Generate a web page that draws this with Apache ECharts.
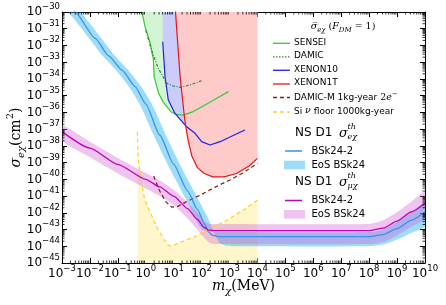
<!DOCTYPE html>
<html><head><meta charset="utf-8">
<script src="https://cdn.jsdelivr.net/npm/echarts@6/dist/echarts.min.js"></script>
<style>html,body{margin:0;padding:0;background:#fff}#c{width:446px;height:305px}</style>
</head><body><div id="c"></div>
<script>
// ---------- data (mass in MeV, cross section in cm^2) ----------
const blueLineM = [2.51e-3, 3.02e-3, 1.55e-2, 4.68e-2, 0.141, 0.417, 1.0, 3.16, 10, 31.6, 70.8, 126, 178, 251, 398, 1e3, 1e8, 3.16e8, 1e9, 3.16e9, 1e10];
const blueLineS = [1.59e-30, 9.12e-31, 2.69e-32, 2.40e-33, 3.39e-34, 3.47e-35, 3.16e-36, 4.47e-38, 7.94e-40, 2.00e-41, 1.59e-42, 2.24e-43, 7.08e-44, 4.47e-44, 3.80e-44, 3.72e-44, 3.72e-44, 5.01e-44, 1.12e-43, 3.55e-43, 1.15e-42];
const blueUpperM = [1.51e-3, 1.82e-3, 9.33e-3, 2.82e-2, 8.51e-2, 0.251, 0.603, 1.91, 6.03, 19.1, 42.7, 75.9, 107, 158, 316, 1e8, 3.16e8, 1e9, 3.16e9, 1e10];
const blueUpperS = [1.59e-30, 9.12e-31, 2.69e-32, 2.40e-33, 3.39e-34, 3.47e-35, 3.16e-36, 4.47e-38, 7.94e-40, 2.00e-41, 1.59e-42, 2.24e-43, 1.0e-43, 7.59e-44, 7.08e-44, 7.08e-44, 1.0e-43, 2.82e-43, 1.05e-42, 3.98e-42];
const blueLowerM = [4.17e-3, 5.01e-3, 2.57e-2, 7.76e-2, 0.234, 0.692, 1.66, 5.25, 16.6, 52.5, 118, 209, 295, 447, 794, 2.0e3, 1e8, 3.16e8, 1e9, 3.16e9, 1e10];
const blueLowerS = [1.59e-30, 9.12e-31, 2.69e-32, 2.40e-33, 3.39e-34, 3.47e-35, 3.16e-36, 4.47e-38, 7.94e-40, 2.00e-41, 1.59e-42, 2.24e-43, 5.01e-44, 1.59e-44, 1.07e-44, 1.0e-44, 1.0e-44, 1.26e-44, 2.51e-44, 6.31e-44, 1.59e-43];

const magLineM = [1e-3, 1e-2, 0.1, 1, 3.16, 10, 31.6, 70.8, 126, 178, 316, 1e8, 3.16e8, 1e9, 3.16e9, 1e10];
const magLineS = [7.08e-38, 7.41e-39, 7.94e-40, 1.0e-40, 3.55e-41, 1.0e-41, 1.78e-42, 3.98e-43, 1.32e-43, 9.12e-44, 8.51e-44, 8.51e-44, 1.20e-43, 3.16e-43, 1.12e-42, 3.72e-42];
const magUpperM = [1e-3, 1e-2, 0.1, 1, 3.16, 10, 31.6, 70.8, 126, 178, 316, 1e8, 3.16e8, 1e9, 3.16e9, 1e10];
const magUpperS = [1.70e-37, 1.78e-38, 1.91e-39, 2.40e-40, 8.51e-41, 2.40e-41, 4.27e-42, 1.0e-42, 3.16e-43, 2.24e-43, 2.14e-43, 2.14e-43, 3.55e-43, 1.12e-42, 4.47e-42, 1.82e-41];
const magLowerM = [1e-3, 1e-2, 0.1, 1, 3.16, 10, 31.6, 70.8, 126, 200, 398, 1e8, 3.16e8, 1e9, 3.16e9, 1e10];
const magLowerS = [2.00e-38, 2.09e-39, 2.24e-40, 2.82e-41, 1.0e-41, 2.82e-42, 4.47e-43, 1.0e-43, 3.16e-44, 1.59e-44, 1.35e-44, 1.35e-44, 1.78e-44, 4.47e-44, 1.41e-43, 4.68e-43];

const senseiM = [0.708, 0.933, 1.45, 1.66, 1.86, 2.0, 2.88, 4.27, 7.94, 12.6, 22.4, 50.1, 115, 316, 912];
const senseiS = [1.26e-30, 1.41e-31, 1.35e-32, 3.98e-33, 1.59e-33, 1.35e-34, 1.38e-35, 3.98e-36, 1.10e-36, 7.59e-37, 6.92e-37, 1.12e-36, 2.40e-36, 6.31e-36, 1.74e-35];
const damicM = [1.0, 1.62, 2.82, 5.62, 9.77, 17.0, 38.5, 100];
const damicS = [7.94e-32, 5.01e-33, 4.27e-34, 5.50e-35, 3.80e-35, 3.16e-35, 4.37e-35, 7.76e-35];
const xenon10M = [4.05, 4.89, 6.41, 11.1, 29.2, 58.1, 100, 200, 457, 1350, 3550];
const xenon10S = [1.66e-32, 1.35e-34, 5.50e-36, 8.71e-37, 1.38e-37, 5.62e-38, 1.78e-38, 1.12e-38, 1.78e-38, 4.17e-38, 8.91e-38];
const xenon1tM = [11.5, 14.1, 17.0, 25.1, 33.1, 44.7, 70.8, 126, 251, 631, 1780, 5010, 1e4];
const xenon1tS = [1.26e-30, 1e-32, 1.26e-34, 3.16e-37, 2.0e-38, 2.51e-39, 5.01e-40, 2.24e-40, 1.41e-40, 1.41e-40, 2.24e-40, 6.31e-40, 1.78e-39];
const damicMM = [1.91, 3.16, 5.25, 8.71, 14.5, 31.6, 100, 316, 1000, 3160, 1e4];
const damicMS = [1.59e-40, 2.0e-41, 4.47e-42, 2.14e-42, 2.51e-42, 5.01e-42, 1.26e-41, 3.55e-41, 8.91e-41, 2.51e-40, 9.12e-40];
const nuFloorM = [0.501, 0.513, 0.550, 0.631, 0.724, 0.891, 1.15, 1.41, 2.0, 2.82, 4.17, 6.31, 8.32, 14.1, 56.2, 200, 794, 3160, 1e4];
const nuFloorS = [7.08e-38, 1.0e-38, 1.41e-39, 2.51e-40, 5.01e-41, 7.94e-42, 2.51e-42, 1.15e-42, 3.16e-43, 9.33e-44, 3.16e-44, 1.18e-44, 1.0e-44, 1.48e-44, 3.72e-44, 1.12e-43, 3.55e-43, 1.48e-42, 5.75e-42];

// axis ranges (decades) and tick exponents
const xDecadeMin = -3, xDecadeMax = 10, yDecadeMin = -45, yDecadeMax = -30;

// ---------- helpers: log10 axes (values plotted as their log10) ----------
const L = v => Math.log10(v);
const zip = (a, b) => a.map((v, i) => [L(v), L(b[i])]);
const SANS = 'DejaVu Sans', SERIF = 'DejaVu Serif';

function areaSeries(name, pts, color, z, smooth) {
  return {
    name, type: 'custom', coordinateSystem: 'cartesian2d', clip: true, silent: true, z,
    data: pts,
    renderItem: (params, api) => params.dataIndex === 0 ? {
      type: 'polygon', shape: { points: pts.map(p => api.coord(p)), smooth: smooth || 0 }, style: { fill: color }
    } : null
  };
}
function lineSeries(name, pts, color, width, type, z, smooth) {
  return {
    name, type: 'line', data: pts, showSymbol: false, symbol: 'none', z, silent: true, clip: true,
    smooth: smooth || false, smoothMonotone: 'x',
    lineStyle: { color, width, type: type || 'solid' }
  };
}
const bandPts = (um, us, lm, ls) => zip(um, us).concat(zip(lm, ls).reverse());
const closeTop = pts => pts.concat([[pts[pts.length - 1][0], yDecadeMax], [pts[0][0], yDecadeMax]]);
const closeBottom = pts => pts.concat([[pts[pts.length - 1][0], yDecadeMin], [pts[0][0], yDecadeMin]]);

const minorX = [], minorY = [];
for (let e = xDecadeMin; e < xDecadeMax; e++) for (let k = 2; k <= 9; k++) minorX.push([e + L(k), -40]);
for (let e = yDecadeMin; e < yDecadeMax; e++) for (let k = 2; k <= 9; k++) minorY.push([0, e + L(k)]);

const expLabel = v => {
  const e = Math.round(v);
  return '{b|10}{s|' + (e < 0 ? '\u2212' + (-e) : e) + '}';
};
const tickRich = {
  b: { fontSize: 12, fontFamily: SANS, color: '#000', verticalAlign: 'bottom' },
  s: { fontSize: 8.5, fontFamily: SANS, color: '#000', verticalAlign: 'bottom', padding: [0, 0, 7, 0] }
};
const mathRich = {
  i: { fontFamily: SERIF, fontStyle: 'italic', fontSize: 14, color: '#000', verticalAlign: 'bottom', padding: [0, 0, 3, 0] },
  r: { fontFamily: SERIF, fontSize: 14, color: '#000', verticalAlign: 'bottom', padding: [0, 0, 3, 0] },
  sub: { fontFamily: SERIF, fontStyle: 'italic', fontSize: 10, color: '#000', verticalAlign: 'bottom' },
  sup: { fontFamily: SERIF, fontSize: 10, color: '#000', verticalAlign: 'bottom', padding: [0, 0, 11, 0] }
};

const axisBase = {
  type: 'value', interval: 1,
  axisLine: { show: true, onZero: false, lineStyle: { color: '#000', width: 1 } },
  axisTick: { show: true, inside: true, length: 5, lineStyle: { color: '#000', width: 1 } },
  splitLine: { show: false }
};

// ---------- colours ----------
const C = {
  sensei: '#33cc33', damic: '#2e8b2e', xenon10: '#1f1fe6', xenon1t: '#ee1111',
  damicM: '#8b1a1a', nu: '#ffd21f',
  greenFill: '#d4f5d4', blueFill: '#ccccfb', redFill: '#fecaca', yellowFill: '#fff6cc',
  nsBlue: '#3a8ff0', nsBlueBand: 'rgba(40,180,240,0.45)',
  nsMag: '#c000c0', nsMagBand: 'rgba(210,90,210,0.35)'
};

// ---------- legend (graphic) ----------
const g = [];
const L1x1 = 273, L1x2 = 290, T1x = 294;
const legend1 = [
  ['SENSEI', C.sensei, 'solid', 43.3],
  ['DAMIC', C.damic, [1.5, 1.5], 56.8],
  ['XENON10', C.xenon10, 'solid', 70.3],
  ['XENON1T', C.xenon1t, 'solid', 84],
  ['DAMIC-M', C.damicM, [4, 3], 97.5],
  ['SI', C.nu, [4, 3], 112]
];
const legRich = {
  t: { fontFamily: SANS, fontSize: 9, color: '#000', verticalAlign: 'bottom', padding: [0, 0, 2, 0] },
  ti: { fontFamily: SERIF, fontStyle: 'italic', fontSize: 9.5, color: '#000', verticalAlign: 'bottom', padding: [0, 0, 2, 0] },
  tr: { fontFamily: SERIF, fontSize: 9.5, color: '#000', verticalAlign: 'bottom', padding: [0, 0, 2, 0] },
  sup: { fontFamily: SERIF, fontSize: 7, color: '#000', verticalAlign: 'bottom', padding: [0, 0, 7, 0] },
  sub: { fontFamily: SERIF, fontStyle: 'italic', fontSize: 7, color: '#000', verticalAlign: 'bottom' }
};
const legText = {
  SENSEI: '{t|SENSEI}', DAMIC: '{t|DAMIC}', XENON10: '{t|XENON10}', XENON1T: '{t|XENON1T}',
  'DAMIC-M': '{t|DAMIC-M 1kg-year }{tr|2}{ti|e}{sup|\u2212}',
  SI: '{t|Si }{ti|\u03bd}{t| floor 1000kg-year}'
};
legend1.forEach(([key, col, dash, y]) => {
  g.push({ type: 'line', z: 100, shape: { x1: L1x1, y1: y, x2: L1x2, y2: y }, style: { stroke: col, lineWidth: 1.3, lineDash: dash === 'solid' ? null : dash } });
  g.push({ type: 'text', z: 100, style: { x: T1x, y: y, text: legText[key], rich: legRich, align: 'left', verticalAlign: 'middle' } });
});
g.push({ type: 'text', z: 100, style: { x: 343, y: 28, align: 'center', verticalAlign: 'middle', rich: legRich,
  text: '{ti|\u03c3\u0305}{sub|e\u03c7}{tr| (}{ti|F}{sub|DM}{tr| = 1)}' } });

function nsTitle(y, subTxt) {
  g.push({ type: 'text', z: 100, style: { x: 295, y: y, text: 'NS D1', fontFamily: SANS, fontSize: 12, fill: '#000', align: 'left', verticalAlign: 'middle' } });
  g.push({ type: 'text', z: 100, style: { x: 339, y: y, text: '\u03c3', fontFamily: SERIF, fontStyle: 'italic', fontSize: 13, fill: '#000', align: 'left', verticalAlign: 'middle' } });
  g.push({ type: 'text', z: 100, style: { x: 347.5, y: y - 6, text: 'th', fontFamily: SERIF, fontStyle: 'italic', fontSize: 8, fill: '#000', align: 'left', verticalAlign: 'middle' } });
  g.push({ type: 'text', z: 100, style: { x: 347.5, y: y + 4, text: subTxt, fontFamily: SERIF, fontStyle: 'italic', fontSize: 8, fill: '#000', align: 'left', verticalAlign: 'middle' } });
}
function nsEntries(yLine, yBand, lineCol, bandCol) {
  g.push({ type: 'line', z: 100, shape: { x1: 285, y1: yLine, x2: 302, y2: yLine }, style: { stroke: lineCol, lineWidth: 1.5 } });
  g.push({ type: 'text', z: 100, style: { x: 311.5, y: yLine, text: 'BSk24-2', fontFamily: SANS, fontSize: 10, fill: '#000', align: 'left', verticalAlign: 'middle' } });
  g.push({ type: 'rect', z: 100, shape: { x: 284, y: yBand - 4.3, width: 21, height: 8.6 }, style: { fill: bandCol } });
  g.push({ type: 'text', z: 100, style: { x: 311.5, y: yBand, text: 'EoS BSk24', fontFamily: SANS, fontSize: 10, fill: '#000', align: 'left', verticalAlign: 'middle' } });
}
nsTitle(133.3, 'e\u03c7');
nsEntries(151, 165, C.nsBlue, C.nsBlueBand);
nsTitle(182.3, '\u03bc\u03c7');
nsEntries(200.5, 214.3, C.nsMag, C.nsMagBand);

// ---------- chart ----------
const chart = echarts.init(document.getElementById('c'));
chart.setOption({
  animation: false,
  backgroundColor: '#fff',
  grid: { left: 62, right: 21, top: 12, bottom: 42, containLabel: false, outerBoundsMode: 'none' },
  xAxis: [
    Object.assign({}, axisBase, {
      position: 'bottom', min: xDecadeMin, max: xDecadeMax,
      axisLabel: { show: true, interval: 0, margin: 1, formatter: expLabel, rich: tickRich, showMinLabel: true, showMaxLabel: true },
      name: '{i|m}{sub|\u03c7}{r|(MeV)}', nameLocation: 'middle', nameGap: 16, nameMoveOverlap: false,
      nameTextStyle: { rich: mathRich }
    }),
    Object.assign({}, axisBase, { position: 'top', min: xDecadeMin, max: xDecadeMax, axisLabel: { show: false } })
  ],
  yAxis: [
    Object.assign({}, axisBase, {
      position: 'left', min: yDecadeMin, max: yDecadeMax,
      axisLabel: { show: true, interval: 0, margin: 2, formatter: expLabel, rich: tickRich, padding: [0, 0, 3.5, 0], showMinLabel: true, showMaxLabel: true },
      name: '{i|\u03c3}{sub|e\u03c7}{r|(cm}{sup|2}{r|)}', nameLocation: 'middle', nameGap: 36, nameRotate: 90, nameMoveOverlap: false,
      nameTextStyle: { rich: mathRich }
    }),
    Object.assign({}, axisBase, { position: 'right', min: yDecadeMin, max: yDecadeMax, axisLabel: { show: false } })
  ],
  graphic: g,
  series: [
    areaSeries('Si nu floor fill', closeBottom(zip(nuFloorM, nuFloorS)), C.yellowFill, 1),
    areaSeries('SENSEI fill', closeTop(zip(senseiM, senseiS)), C.greenFill, 1),
    areaSeries('XENON10 fill', closeTop(zip(xenon10M, xenon10S)), C.blueFill, 1),
    areaSeries('XENON1T fill', closeTop(zip(xenon1tM, xenon1tS)), C.redFill, 1),
    areaSeries('EoS BSk24 (e)', bandPts(blueUpperM, blueUpperS, blueLowerM, blueLowerS), C.nsBlueBand, 2, 0.2),
    areaSeries('EoS BSk24 (mu)', bandPts(magUpperM, magUpperS, magLowerM, magLowerS), C.nsMagBand, 2, 0.2),
    lineSeries('SENSEI', zip(senseiM, senseiS), C.sensei, 1.2, 'solid', 3),
    lineSeries('DAMIC', zip(damicM, damicS), C.damic, 1.2, [3, 1.5, 1, 1.5], 3),
    lineSeries('XENON10', zip(xenon10M, xenon10S), C.xenon10, 1.2, 'solid', 3),
    lineSeries('XENON1T', zip(xenon1tM, xenon1tS), C.xenon1t, 1.2, 'solid', 3),
    lineSeries('DAMIC-M 1kg-year', zip(damicMM, damicMS), C.damicM, 1.2, [4, 3], 3),
    lineSeries('Si nu floor 1000kg-year', zip(nuFloorM, nuFloorS), C.nu, 1.2, [4, 3], 3),
    lineSeries('BSk24-2 (e)', zip(blueLineM, blueLineS), C.nsBlue, 1.3, 'solid', 4, 0.2),
    lineSeries('BSk24-2 (mu)', zip(magLineM, magLineS), C.nsMag, 1.3, 'solid', 4, 0.2),
    {
      type: 'custom', silent: true, clip: false, z: 5, data: minorX,
      renderItem: (params, api) => {
        const cs = params.coordSys; const x = api.coord([api.value(0), -40])[0];
        return { type: 'group', children: [
          { type: 'line', shape: { x1: x, y1: cs.y + cs.height, x2: x, y2: cs.y + cs.height - 2.5 }, style: { stroke: '#000', lineWidth: 0.8 } },
          { type: 'line', shape: { x1: x, y1: cs.y, x2: x, y2: cs.y + 2.5 }, style: { stroke: '#000', lineWidth: 0.8 } }
        ] };
      }
    },
    {
      type: 'custom', silent: true, clip: false, z: 5, data: minorY,
      renderItem: (params, api) => {
        const cs = params.coordSys; const y = api.coord([0, api.value(1)])[1];
        return { type: 'group', children: [
          { type: 'line', shape: { x1: cs.x, y1: y, x2: cs.x + 2.5, y2: y }, style: { stroke: '#000', lineWidth: 0.8 } },
          { type: 'line', shape: { x1: cs.x + cs.width, y1: y, x2: cs.x + cs.width - 2.5, y2: y }, style: { stroke: '#000', lineWidth: 0.8 } }
        ] };
      }
    }
  ]
});
</script></body></html>
